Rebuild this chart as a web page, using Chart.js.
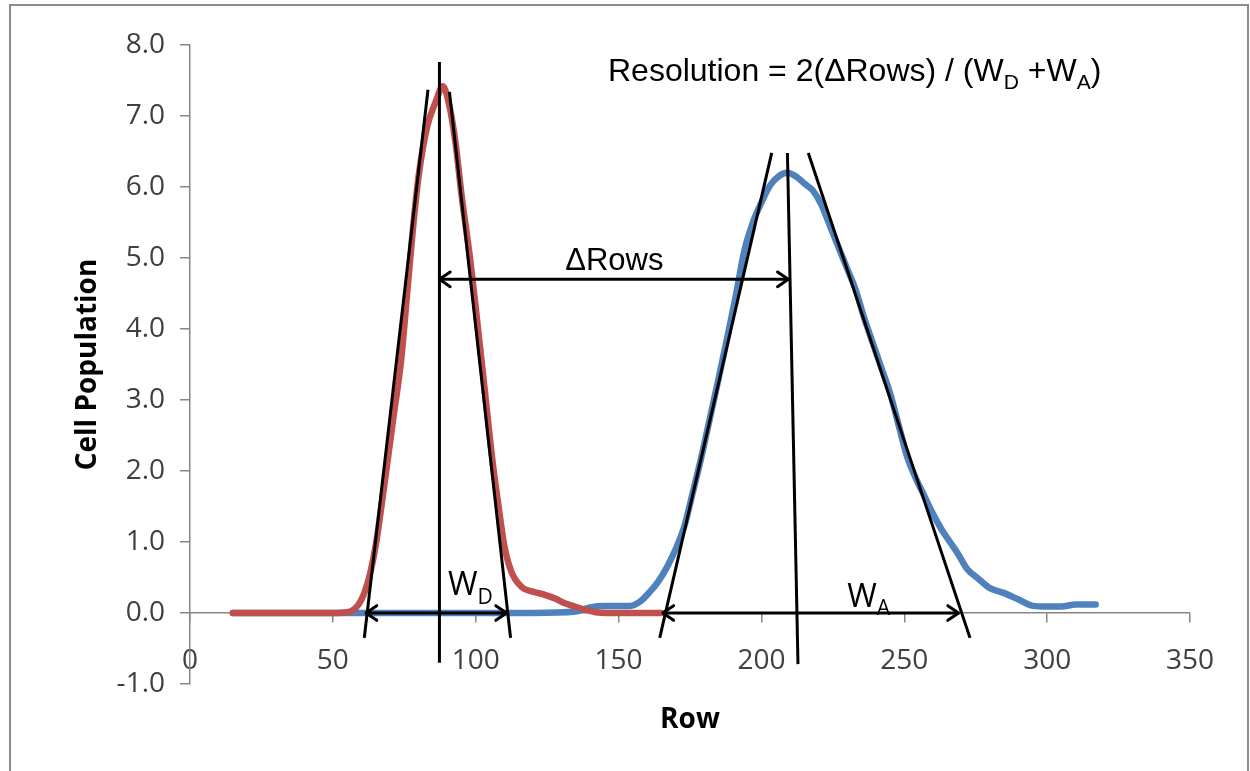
<!DOCTYPE html>
<html>
<head>
<meta charset="utf-8">
<title>Resolution</title>
<script src="https://cdn.jsdelivr.net/npm/chart.js@4.4.1/dist/chart.umd.min.js"></script>
<style>
  html, body { margin: 0; padding: 0; background: #fff; }
  #wrap { position: relative; width: 1250px; height: 771px; overflow: hidden; }
  #frame { position: absolute; left: 9px; top: 4px; right: 1px; bottom: -10px; border: 2px solid #8c8c8c; pointer-events: none; }
</style>
</head>
<body>
<div id="wrap">
  <canvas id="chart" width="1250" height="771"></canvas>
  <div id="frame"></div>
</div>
<script>
// donor (D) peak, red
const rowsD = [15, 20, 25, 30, 35, 40, 45, 50, 55, 57, 59, 61, 63, 65, 68, 71, 74, 76, 78, 80,
  83, 86, 88.5, 91, 93, 95, 98, 100, 103, 106, 108, 110, 112.5, 116, 120, 124, 128, 131, 134, 138,
  142, 146, 150, 155, 160, 165];
const cellsD = [0, 0, 0, 0, 0, 0, 0, 0, 0.01, 0.04, 0.12, 0.28, 0.55, 0.95, 1.8, 2.7, 3.6, 4.5, 5.4, 6.15,
  6.85, 7.2, 7.42, 7.1, 6.6, 5.9, 5.0, 4.3, 3.2, 2.1, 1.5, 0.95, 0.58, 0.37, 0.3, 0.26, 0.2, 0.14, 0.1, 0.05,
  0.01, 0, 0, 0, 0, 0];

// acceptor (A) peak, blue
const rowsA = [15, 30, 45, 60, 75, 90, 105, 120, 135, 140, 145, 150, 154, 157.5, 161, 164, 167, 170, 173, 176,
  179, 182, 185, 188, 191, 194, 197, 200, 203, 206, 209, 212, 215, 218, 221, 224, 227, 230, 233, 236,
  239, 242, 245, 248, 251, 254, 257, 260, 263, 266, 269, 272, 276, 280, 285, 290, 295, 300, 305, 310, 317];
const cellsA = [0, 0, 0, 0, 0, 0, 0, 0, 0.02, 0.08, 0.1, 0.1, 0.1, 0.16, 0.3, 0.45, 0.65, 0.9, 1.22, 1.7,
  2.2, 2.75, 3.3, 3.87, 4.46, 5.1, 5.5, 5.78, 6.02, 6.15, 6.2, 6.15, 6.05, 5.95, 5.75, 5.45, 5.15, 4.85, 4.55, 4.15,
  3.8, 3.45, 3.1, 2.65, 2.2, 1.9, 1.65, 1.4, 1.18, 1.0, 0.82, 0.62, 0.48, 0.35, 0.28, 0.19, 0.1, 0.09, 0.09, 0.12, 0.12];

// tangent and peak lines: [x1, y1, x2, y2] in data units
const guideLines = [
  [61, -0.35, 83.3, 7.37],
  [87.3, -0.7, 87.3, 7.76],
  [90.8, 7.34, 112.2, -0.35],
  [164.4, -0.35, 203.6, 6.48],
  [209.1, 6.48, 212.8, -0.72],
  [216.4, 6.48, 273, -0.35]
];

// double-headed arrows: W_D, ΔRows, W_A
const arrows = [
  [61.6, 0, 110.8, 0],
  [87.3, 4.7, 209.4, 4.7],
  [165.5, 0, 269, 0]
];

const xTicks = { min: 0, max: 350, step: 50 };
const yTicks = { min: -1, max: 8, step: 1 };

const RED = '#c0504d';
const BLUE = '#4f81bd';
const AXIS = '#868686';

const toPoints = (xs, ys) => xs.map((x, i) => ({ x: x, y: ys[i] }));

const blackLine = (seg) => ({
  data: [{ x: seg[0], y: seg[1] }, { x: seg[2], y: seg[3] }],
  borderColor: '#000',
  borderWidth: 3,
  pointRadius: 0,
  order: 0
});

// arrow heads + text notes
const annotate = {
  id: 'annotate',
  afterDatasetsDraw(chart) {
    const c = chart.ctx;
    const sx = chart.scales.x, sy = chart.scales.y;
    c.save();
    c.strokeStyle = '#000';
    c.lineWidth = 3;
    c.lineCap = 'round';
    c.lineJoin = 'round';

    const head = (tx, ty, fx, fy) => {
      const a = Math.atan2(ty - fy, tx - fx);
      const len = 13, spread = 0.6;
      c.beginPath();
      c.moveTo(tx - len * Math.cos(a - spread), ty - len * Math.sin(a - spread));
      c.lineTo(tx, ty);
      c.lineTo(tx - len * Math.cos(a + spread), ty - len * Math.sin(a + spread));
      c.stroke();
    };
    arrows.forEach(a => {
      const x1 = sx.getPixelForValue(a[0]), y1 = sy.getPixelForValue(a[1]);
      const x2 = sx.getPixelForValue(a[2]), y2 = sy.getPixelForValue(a[3]);
      head(x1, y1, x2, y2);
      head(x2, y2, x1, y1);
    });

    // text with optional subscripts
    const rich = (parts, px, py, size, family) => {
      let cx = px;
      c.textAlign = 'left';
      c.textBaseline = 'alphabetic';
      parts.forEach(p => {
        const s = p.sub ? size * 0.66 : size;
        c.font = s + 'px ' + family;
        c.fillText(p.t, cx, p.sub ? py + size * 0.26 : py);
        cx += c.measureText(p.t).width;
      });
    };
    c.fillStyle = '#000';
    const arial = '"Liberation Sans", Arial, sans-serif';
    const calib = '"Open Sans", sans-serif';

    rich([{ t: 'Resolution = 2(ΔRows) / (W' }, { t: 'D', sub: true }, { t: ' +W' }, { t: 'A', sub: true }, { t: ')' }],
      sx.getPixelForValue(146.3), sy.getPixelForValue(7.5), 32, arial);

    c.font = '31px ' + arial;
    c.textAlign = 'center';
    c.fillText('ΔRows', sx.getPixelForValue(148.5), sy.getPixelForValue(4.83));

    rich([{ t: 'W' }, { t: 'D', sub: true }], sx.getPixelForValue(90.3), sy.getPixelForValue(0.25), 32, calib);
    rich([{ t: 'W' }, { t: 'A', sub: true }], sx.getPixelForValue(230), sy.getPixelForValue(0.085), 32, calib);
    c.restore();
  }
};

const tickFont = { family: 'Open Sans', size: 28 };
const titleFont = { family: 'Open Sans', size: 28, weight: 'bold' };

new Chart(document.getElementById('chart').getContext('2d'), {
  type: 'line',
  data: {
    datasets: [
      ...guideLines.map(blackLine),
      ...arrows.map(blackLine),
      {
        label: 'D',
        data: toPoints(rowsD, cellsD),
        borderColor: RED,
        borderWidth: 6.5,
        borderCapStyle: 'round',
        borderJoinStyle: 'round',
        cubicInterpolationMode: 'monotone',
        pointRadius: 0,
        order: 1
      },
      {
        label: 'A',
        data: toPoints(rowsA, cellsA),
        borderColor: BLUE,
        borderWidth: 6.5,
        borderCapStyle: 'round',
        borderJoinStyle: 'round',
        cubicInterpolationMode: 'monotone',
        pointRadius: 0,
        order: 2
      }
    ]
  },
  options: {
    responsive: false,
    animation: false,
    layout: { padding: { left: 0, top: 45, right: 60, bottom: 87 } },
    plugins: { legend: { display: false }, tooltip: { enabled: false } },
    scales: {
      x: {
        type: 'linear',
        min: xTicks.min, max: xTicks.max,
        position: { y: 0 },
        ticks: { stepSize: xTicks.step, padding: 22, color: '#404040', font: tickFont, maxRotation: 0, autoSkip: false },
        grid: { drawOnChartArea: false, drawTicks: true, tickLength: 9, color: AXIS, lineWidth: 1.5 },
        border: { color: AXIS, width: 1.5 },
        title: { display: true, text: 'Row', color: '#000', font: titleFont, padding: { top: 4, bottom: 0 } }
      },
      y: {
        type: 'linear',
        min: yTicks.min, max: yTicks.max,
        position: 'left',
        ticks: { stepSize: yTicks.step, padding: 15, color: '#404040', font: tickFont, callback: v => v.toFixed(1) },
        grid: { drawOnChartArea: false, drawTicks: true, tickLength: 10, color: AXIS, lineWidth: 1.5 },
        border: { color: AXIS, width: 1.5 },
        title: { display: true, text: 'Cell Population', color: '#000', font: titleFont, padding: { top: 71, bottom: 0 } },
        afterFit(s) { s.width = 190; }
      }
    }
  },
  plugins: [annotate]
});
</script>
</body>
</html>
